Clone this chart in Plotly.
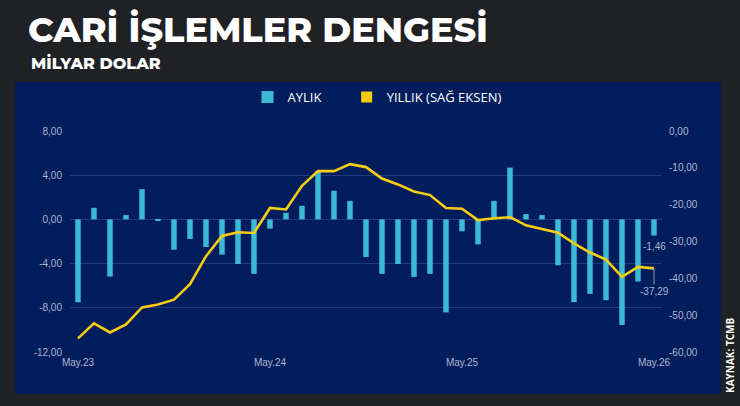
import plotly.graph_objects as go

# ---------------- data ----------------
months_tr = ["May", "Haz", "Tem", "Ağu", "Eyl", "Eki", "Kas", "Ara", "Oca", "Şub", "Mar", "Nis"]
categories = []
for i in range(37):
    m = months_tr[i % 12]
    yr = 23 + (i + 4) // 12
    categories.append(f"{m}.{yr}")

monthly = [-7.5, 1.05, -5.17, 0.39, 2.74, -0.08, -2.74, -1.77, -2.5, -3.19,
           -4.03, -4.93, -0.84, 0.6, 1.23, 4.36, 2.59, 1.68, -3.4, -4.93,
           -4.03, -5.2, -4.93, -8.42, -1.08, -2.26, 1.68, 4.69, 0.48, 0.39,
           -4.15, -7.49, -6.74, -7.31, -9.56, -5.62, -1.46]

annual = [-56.3, -52.2, -54.7, -52.5, -47.9, -47.1, -45.8, -41.6, -34.0, -28.5,
          -27.5, -27.7, -20.9, -21.3, -14.9, -10.9, -10.9, -9.0, -9.8, -12.9,
          -14.5, -16.4, -17.4, -20.9, -21.1, -24.2, -23.7, -23.4, -25.6, -26.7,
          -27.6, -30.5, -33.0, -34.9, -39.6, -36.9, -37.29]

left_tickvals = [8, 4, 0, -4, -8, -12]
left_ticktext = ["8,00", "4,00", "0,00", "-4,00", "-8,00", "-12,00"]
right_tickvals = [0, -10, -20, -30, -40, -50, -60]
right_ticktext = ["0,00", "-10,00", "-20,00", "-30,00", "-40,00", "-50,00", "-60,00"]
x_tickvals = ["May.23", "May.24", "May.25", "May.26"]

last_monthly_label = "-1,46"
last_annual_label = "-37,29"

# ---------------- style ----------------
BG = "#1f2124"
NAVY = "#021d5c"
GRID = "#1f3a7a"
BAR = "#3cb9d5"
LINE = "#f7cd13"
TICK = "#aab6d0"

W, H = 740, 406
L, R, T, B = 70, 78, 131, 54
pw, ph = W - L - R, H - T - B

def px2x(px):
    return (px - L) / pw

def px2y(py):
    return (H - B - py) / ph

fig = go.Figure()

fig.add_trace(go.Bar(x=categories, y=monthly, name="AYLIK" + "\u00a0" * 6,
                     marker=dict(color=BAR, line=dict(width=0)),
                     yaxis="y"))
fig.add_trace(go.Scatter(x=categories, y=annual, name="YILLIK (SAĞ EKSEN)",
                         mode="lines", line=dict(color=LINE, width=2.6),
                         yaxis="y2", showlegend=False))
# legend swatch for the line series (square, as in the reference)
fig.add_trace(go.Scatter(x=[categories[0]], y=[None], name="YILLIK (SAĞ EKSEN)",
                         mode="markers", marker=dict(symbol="square", size=11, color=LINE),
                         yaxis="y2"))

fig.update_layout(
    width=W, height=H,
    margin=dict(l=L, r=R, t=T, b=B, autoexpand=False),
    paper_bgcolor=BG,
    plot_bgcolor=NAVY,
    bargap=0.66,
    showlegend=True,
    legend=dict(orientation="h", x=px2x(377), xanchor="center",
                y=px2y(97), yanchor="middle", tracegroupgap=0, itemwidth=30,
                font=dict(family="Open Sans, Lato, sans-serif", size=13, color="#ffffff", weight=500),
                bgcolor="rgba(0,0,0,0)", itemclick=False),
    font=dict(family="Liberation Sans Narrow, Liberation Sans, sans-serif", size=10, color=TICK),
    xaxis=dict(type="category", categoryorder="array", categoryarray=categories,
               range=[-0.5, len(categories) - 0.5],
               tickmode="array", tickvals=x_tickvals, ticktext=x_tickvals, automargin=False,
               showgrid=False, showline=False, zeroline=False, ticks="",
               tickfont=dict(size=10, color=TICK), ticklabelstandoff=3),
    yaxis=dict(range=[-12, 8], tickmode="array", tickvals=left_tickvals, ticktext=left_ticktext,
               showgrid=True, gridcolor=GRID, gridwidth=1, zeroline=True, zerolinecolor=GRID,
               zerolinewidth=1, showline=False, ticks="", tickfont=dict(size=10, color=TICK),
               ticklabelstandoff=7, automargin=False),
    yaxis2=dict(range=[-60, 0], overlaying="y", side="right", tickmode="array",
                tickvals=right_tickvals, ticktext=right_ticktext, automargin=False,
                showgrid=False, zeroline=False, showline=False, ticks="",
                tickfont=dict(size=10, color=TICK), ticklabelstandoff=6),
)

# navy panel
fig.add_shape(type="rect", xref="paper", yref="paper",
              x0=px2x(15), x1=px2x(721), y0=px2y(394), y1=px2y(82),
              fillcolor=NAVY, line=dict(width=0), layer="below")

# titles
fig.add_annotation(text="CARİ İŞLEMLER DENGESİ", xref="paper", yref="paper",
                   x=px2x(26), y=px2y(29), xanchor="left", yanchor="middle", showarrow=False,
                   font=dict(family="Montserrat, Open Sans, sans-serif", size=35, color="#ffffff", weight=800))
fig.add_annotation(text="MİLYAR DOLAR", xref="paper", yref="paper",
                   x=px2x(29), y=px2y(63), xanchor="left", yanchor="middle", showarrow=False,
                   font=dict(family="Montserrat, Open Sans, sans-serif", size=16, color="#ffffff", weight=800))
fig.add_annotation(text="KAYNAK: TCMB", xref="paper", yref="paper",
                   x=px2x(730), y=px2y(356), xanchor="center", yanchor="middle", showarrow=False,
                   textangle=-90,
                   font=dict(family="Open Sans, sans-serif", size=10, color="#ffffff", weight=700))

# value labels
fig.add_annotation(text=last_monthly_label, x=categories[-1], y=monthly[-1], yref="y",
                   showarrow=False, yanchor="top", yshift=-3,
                   font=dict(family="Liberation Sans Narrow, Liberation Sans, sans-serif", size=10, color=TICK))
fig.add_annotation(text=last_annual_label, x=categories[-1], y=annual[-1], yref="y2",
                   showarrow=True, arrowhead=0, arrowwidth=1, arrowcolor="#8c96b0",
                   ax=0, ay=16, yanchor="top",
                   font=dict(family="Liberation Sans Narrow, Liberation Sans, sans-serif", size=10, color=TICK))

fig.write_html("out.html")
